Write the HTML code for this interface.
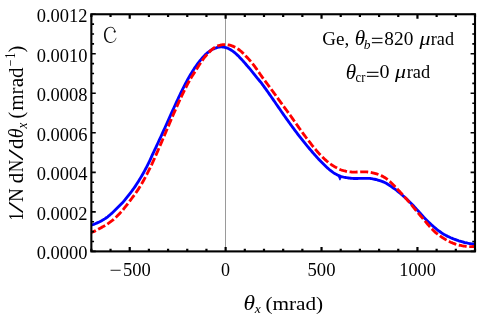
<!DOCTYPE html>
<html><head><meta charset="utf-8"><style>
html,body{margin:0;padding:0;background:#fff;}
svg{display:block;will-change:transform;font-family:"Liberation Serif",serif;font-size:18px;fill:#000;}
.i{font-style:italic}
</style></head><body>
<svg width="478" height="318" viewBox="0 0 478 318">
<rect width="478" height="318" fill="#fff"/>
<line x1="225.5" y1="14.25" x2="225.5" y2="251.4" stroke="#9a9a9a" stroke-width="1"/>
<clipPath id="c"><rect x="91.35" y="14.25" width="383.65" height="237.15"/></clipPath>
<g clip-path="url(#c)" fill="none" stroke-linejoin="round">
<path d="M89.7,225.50 L91.7,224.98 L92.7,224.72 L93.7,224.37 L94.7,223.97 L95.7,223.55 L96.7,223.12 L97.7,222.67 L98.7,222.20 L99.7,221.72 L100.7,221.20 L101.7,220.66 L102.7,220.10 L103.7,219.50 L104.7,218.89 L105.7,218.23 L106.7,217.53 L107.7,216.77 L108.7,215.97 L109.7,215.13 L110.7,214.27 L111.7,213.39 L112.7,212.48 L113.7,211.53 L114.7,210.57 L115.7,209.58 L116.7,208.58 L117.7,207.58 L118.7,206.59 L119.7,205.60 L120.7,204.60 L121.7,203.56 L122.7,202.49 L123.7,201.36 L124.7,200.18 L125.7,198.96 L126.7,197.71 L127.7,196.45 L128.7,195.18 L129.7,193.89 L130.7,192.59 L131.7,191.26 L132.7,189.89 L133.7,188.49 L134.7,187.06 L135.7,185.58 L136.7,184.06 L137.7,182.51 L138.7,180.91 L139.7,179.29 L140.7,177.63 L141.7,175.94 L142.7,174.21 L143.7,172.44 L144.7,170.64 L145.7,168.80 L146.7,166.91 L147.7,164.97 L148.7,162.93 L149.7,160.79 L150.7,158.58 L151.7,156.36 L152.7,154.18 L153.7,152.04 L154.7,149.90 L155.7,147.77 L156.7,145.64 L157.7,143.51 L158.7,141.37 L159.7,139.21 L160.7,137.04 L161.7,134.86 L162.7,132.66 L163.7,130.45 L164.7,128.24 L165.7,126.02 L166.7,123.80 L167.7,121.58 L168.7,119.36 L169.7,117.14 L170.7,114.91 L171.7,112.67 L172.7,110.44 L173.7,108.21 L174.7,106.01 L175.7,103.82 L176.7,101.64 L177.7,99.49 L178.7,97.36 L179.7,95.26 L180.7,93.18 L181.7,91.13 L182.7,89.11 L183.7,87.13 L184.7,85.17 L185.7,83.26 L186.7,81.38 L187.7,79.54 L188.7,77.75 L189.7,75.99 L190.7,74.28 L191.7,72.61 L192.7,70.99 L193.7,69.42 L194.7,67.90 L195.7,66.43 L196.7,65.00 L197.7,63.62 L198.7,62.30 L199.7,61.02 L200.7,59.80 L201.7,58.63 L202.7,57.51 L203.7,56.42 L204.7,55.37 L205.7,54.38 L206.7,53.45 L207.7,52.58 L208.7,51.78 L209.7,51.05 L210.7,50.39 L211.7,49.80 L212.7,49.27 L213.7,48.81 L214.7,48.40 L215.7,48.03 L216.7,47.69 L217.7,47.41 L218.7,47.18 L219.7,47.02 L220.7,46.93 L221.7,46.92 L222.7,46.98 L223.7,47.12 L224.7,47.32 L225.7,47.57 L226.7,47.89 L227.7,48.27 L228.7,48.72 L229.7,49.24 L230.7,49.80 L231.7,50.41 L232.7,51.07 L233.7,51.80 L234.7,52.61 L235.7,53.48 L236.7,54.40 L237.7,55.37 L238.7,56.36 L239.7,57.38 L240.7,58.43 L241.7,59.51 L242.7,60.61 L243.7,61.74 L244.7,62.89 L245.7,64.05 L246.7,65.20 L247.7,66.35 L248.7,67.50 L249.7,68.67 L250.7,69.86 L251.7,71.06 L252.7,72.30 L253.7,73.56 L254.7,74.83 L255.7,76.10 L256.7,77.34 L257.7,78.55 L258.7,79.76 L259.7,80.97 L260.7,82.21 L261.7,83.48 L262.7,84.80 L263.7,86.16 L264.7,87.54 L265.7,88.94 L266.7,90.34 L267.7,91.76 L268.7,93.18 L269.7,94.60 L270.7,96.04 L271.7,97.47 L272.7,98.91 L273.7,100.36 L274.7,101.80 L275.7,103.25 L276.7,104.70 L277.7,106.15 L278.7,107.60 L279.7,109.05 L280.7,110.49 L281.7,111.94 L282.7,113.38 L283.7,114.82 L284.7,116.24 L285.7,117.66 L286.7,119.06 L287.7,120.45 L288.7,121.84 L289.7,123.22 L290.7,124.60 L291.7,125.97 L292.7,127.33 L293.7,128.68 L294.7,130.03 L295.7,131.37 L296.7,132.70 L297.7,134.02 L298.7,135.33 L299.7,136.63 L300.7,137.92 L301.7,139.19 L302.7,140.46 L303.7,141.71 L304.7,142.95 L305.7,144.18 L306.7,145.39 L307.7,146.60 L308.7,147.79 L309.7,148.96 L310.7,150.13 L311.7,151.29 L312.7,152.45 L313.7,153.61 L314.7,154.76 L315.7,155.89 L316.7,157.00 L317.7,158.09 L318.7,159.17 L319.7,160.22 L320.7,161.24 L321.7,162.25 L322.7,163.26 L323.7,164.26 L324.7,165.25 L325.7,166.23 L326.7,167.17 L327.7,168.08 L328.7,168.96 L329.7,169.81 L330.7,170.62 L331.7,171.40 L332.7,172.15 L333.7,172.85 L334.7,173.50 L335.7,174.08 L336.7,174.61 L337.7,175.08 L338.7,175.50 L339.7,175.90 L340.7,176.25 L341.7,176.57 L342.7,176.85 L343.7,177.10 L344.7,177.31 L345.7,177.51 L346.7,177.68 L347.7,177.84 L348.7,177.99 L349.7,178.13 L350.7,178.25 L351.7,178.36 L352.7,178.45 L353.7,178.51 L354.7,178.53 L355.7,178.53 L356.7,178.51 L357.7,178.48 L358.7,178.44 L359.7,178.41 L360.7,178.38 L361.7,178.36 L362.7,178.35 L363.7,178.34 L364.7,178.34 L365.7,178.34 L366.7,178.34 L367.7,178.36 L368.7,178.39 L369.7,178.44 L370.7,178.54 L371.7,178.68 L372.7,178.85 L373.7,179.04 L374.7,179.25 L375.7,179.49 L376.7,179.74 L377.7,180.01 L378.7,180.30 L379.7,180.61 L380.7,180.94 L381.7,181.29 L382.7,181.67 L383.7,182.08 L384.7,182.54 L385.7,183.05 L386.7,183.60 L387.7,184.19 L388.7,184.82 L389.7,185.47 L390.7,186.15 L391.7,186.84 L392.7,187.53 L393.7,188.24 L394.7,188.96 L395.7,189.71 L396.7,190.48 L397.7,191.28 L398.7,192.08 L399.7,192.91 L400.7,193.75 L401.7,194.61 L402.7,195.48 L403.7,196.35 L404.7,197.22 L405.7,198.10 L406.7,199.01 L407.7,199.97 L408.7,200.95 L409.7,201.95 L410.7,202.95 L411.7,203.97 L412.7,205.02 L413.7,206.09 L414.7,207.18 L415.7,208.28 L416.7,209.38 L417.7,210.48 L418.7,211.58 L419.7,212.69 L420.7,213.80 L421.7,214.91 L422.7,216.01 L423.7,217.10 L424.7,218.17 L425.7,219.22 L426.7,220.23 L427.7,221.22 L428.7,222.20 L429.7,223.15 L430.7,224.09 L431.7,225.00 L432.7,225.89 L433.7,226.76 L434.7,227.61 L435.7,228.43 L436.7,229.24 L437.7,230.02 L438.7,230.78 L439.7,231.52 L440.7,232.24 L441.7,232.94 L442.7,233.60 L443.7,234.23 L444.7,234.81 L445.7,235.35 L446.7,235.86 L447.7,236.36 L448.7,236.83 L449.7,237.29 L450.7,237.74 L451.7,238.16 L452.7,238.57 L453.7,238.96 L454.7,239.33 L455.7,239.70 L456.7,240.06 L457.7,240.42 L458.7,240.77 L459.7,241.09 L460.7,241.40 L461.7,241.69 L462.7,241.98 L463.7,242.25 L464.7,242.51 L465.7,242.76 L466.7,242.98 L467.7,243.19 L468.7,243.37 L469.7,243.55 L470.7,243.70 L471.7,243.83 L472.7,243.93 L473.7,244.00 L474.7,244.04 L475.7,244.06" stroke="#0000ff" stroke-width="2.85"/>
<path d="M338.1,176 L339.9,180.2 L341.7,176.8Z" fill="#0000ff" stroke="#0000ff" stroke-width="0.8" stroke-linejoin="round"/>
<path d="M89.7,232.86 L91.7,232.28 L92.7,231.99 L93.7,231.59 L94.7,231.12 L95.7,230.63 L96.7,230.11 L97.7,229.57 L98.7,229.02 L99.7,228.45 L100.7,227.90 L101.7,227.37 L102.7,226.84 L103.7,226.31 L104.7,225.75 L105.7,225.15 L106.7,224.51 L107.7,223.83 L108.7,223.14 L109.7,222.43 L110.7,221.69 L111.7,220.94 L112.7,220.15 L113.7,219.30 L114.7,218.42 L115.7,217.51 L116.7,216.57 L117.7,215.58 L118.7,214.56 L119.7,213.50 L120.7,212.41 L121.7,211.29 L122.7,210.14 L123.7,208.96 L124.7,207.72 L125.7,206.44 L126.7,205.12 L127.7,203.78 L128.7,202.43 L129.7,201.11 L130.7,199.80 L131.7,198.49 L132.7,197.18 L133.7,195.84 L134.7,194.47 L135.7,193.07 L136.7,191.63 L137.7,190.16 L138.7,188.65 L139.7,187.08 L140.7,185.45 L141.7,183.76 L142.7,182.02 L143.7,180.24 L144.7,178.41 L145.7,176.55 L146.7,174.65 L147.7,172.71 L148.7,170.73 L149.7,168.71 L150.7,166.65 L151.7,164.56 L152.7,162.41 L153.7,160.21 L154.7,157.96 L155.7,155.67 L156.7,153.37 L157.7,151.09 L158.7,148.80 L159.7,146.50 L160.7,144.18 L161.7,141.85 L162.7,139.51 L163.7,137.16 L164.7,134.80 L165.7,132.44 L166.7,130.07 L167.7,127.70 L168.7,125.33 L169.7,122.97 L170.7,120.61 L171.7,118.27 L172.7,115.95 L173.7,113.64 L174.7,111.36 L175.7,109.10 L176.7,106.85 L177.7,104.62 L178.7,102.41 L179.7,100.23 L180.7,98.07 L181.7,95.94 L182.7,93.84 L183.7,91.77 L184.7,89.74 L185.7,87.74 L186.7,85.78 L187.7,83.86 L188.7,81.99 L189.7,80.18 L190.7,78.45 L191.7,76.78 L192.7,75.18 L193.7,73.62 L194.7,72.10 L195.7,70.58 L196.7,69.03 L197.7,67.44 L198.7,65.83 L199.7,64.25 L200.7,62.72 L201.7,61.25 L202.7,59.83 L203.7,58.49 L204.7,57.21 L205.7,55.99 L206.7,54.82 L207.7,53.70 L208.7,52.63 L209.7,51.63 L210.7,50.67 L211.7,49.78 L212.7,48.93 L213.7,48.15 L214.7,47.45 L215.7,46.84 L216.7,46.33 L217.7,45.91 L218.7,45.56 L219.7,45.26 L220.7,45.01 L221.7,44.82 L222.7,44.68 L223.7,44.60 L224.7,44.57 L225.7,44.60 L226.7,44.68 L227.7,44.81 L228.7,44.98 L229.7,45.19 L230.7,45.46 L231.7,45.79 L232.7,46.17 L233.7,46.61 L234.7,47.08 L235.7,47.60 L236.7,48.18 L237.7,48.80 L238.7,49.49 L239.7,50.23 L240.7,51.05 L241.7,51.93 L242.7,52.86 L243.7,53.84 L244.7,54.86 L245.7,55.90 L246.7,56.96 L247.7,58.04 L248.7,59.14 L249.7,60.26 L250.7,61.41 L251.7,62.59 L252.7,63.82 L253.7,65.12 L254.7,66.45 L255.7,67.82 L256.7,69.20 L257.7,70.60 L258.7,72.05 L259.7,73.53 L260.7,75.01 L261.7,76.44 L262.7,77.81 L263.7,79.13 L264.7,80.46 L265.7,81.79 L266.7,83.13 L267.7,84.48 L268.7,85.83 L269.7,87.19 L270.7,88.55 L271.7,89.91 L272.7,91.28 L273.7,92.65 L274.7,94.03 L275.7,95.41 L276.7,96.80 L277.7,98.19 L278.7,99.58 L279.7,100.96 L280.7,102.34 L281.7,103.70 L282.7,105.07 L283.7,106.43 L284.7,107.79 L285.7,109.16 L286.7,110.52 L287.7,111.89 L288.7,113.25 L289.7,114.62 L290.7,116.00 L291.7,117.40 L292.7,118.82 L293.7,120.25 L294.7,121.67 L295.7,123.09 L296.7,124.51 L297.7,125.93 L298.7,127.34 L299.7,128.74 L300.7,130.14 L301.7,131.53 L302.7,132.91 L303.7,134.29 L304.7,135.65 L305.7,136.99 L306.7,138.32 L307.7,139.63 L308.7,140.92 L309.7,142.21 L310.7,143.49 L311.7,144.76 L312.7,146.02 L313.7,147.25 L314.7,148.47 L315.7,149.67 L316.7,150.84 L317.7,151.99 L318.7,153.11 L319.7,154.21 L320.7,155.28 L321.7,156.31 L322.7,157.32 L323.7,158.30 L324.7,159.24 L325.7,160.14 L326.7,161.01 L327.7,161.84 L328.7,162.64 L329.7,163.41 L330.7,164.15 L331.7,164.85 L332.7,165.52 L333.7,166.15 L334.7,166.75 L335.7,167.32 L336.7,167.86 L337.7,168.38 L338.7,168.87 L339.7,169.32 L340.7,169.74 L341.7,170.11 L342.7,170.44 L343.7,170.73 L344.7,170.99 L345.7,171.23 L346.7,171.43 L347.7,171.61 L348.7,171.75 L349.7,171.86 L350.7,171.95 L351.7,172.02 L352.7,172.06 L353.7,172.08 L354.7,172.08 L355.7,172.06 L356.7,172.02 L357.7,171.97 L358.7,171.92 L359.7,171.87 L360.7,171.83 L361.7,171.82 L362.7,171.82 L363.7,171.83 L364.7,171.85 L365.7,171.88 L366.7,171.94 L367.7,172.02 L368.7,172.13 L369.7,172.26 L370.7,172.41 L371.7,172.59 L372.7,172.79 L373.7,173.02 L374.7,173.27 L375.7,173.55 L376.7,173.87 L377.7,174.23 L378.7,174.62 L379.7,175.01 L380.7,175.43 L381.7,175.88 L382.7,176.37 L383.7,176.91 L384.7,177.51 L385.7,178.18 L386.7,178.91 L387.7,179.69 L388.7,180.52 L389.7,181.38 L390.7,182.27 L391.7,183.20 L392.7,184.18 L393.7,185.18 L394.7,186.21 L395.7,187.27 L396.7,188.34 L397.7,189.42 L398.7,190.49 L399.7,191.57 L400.7,192.65 L401.7,193.76 L402.7,194.87 L403.7,195.98 L404.7,197.09 L405.7,198.20 L406.7,199.32 L407.7,200.46 L408.7,201.62 L409.7,202.79 L410.7,203.96 L411.7,205.14 L412.7,206.34 L413.7,207.55 L414.7,208.78 L415.7,210.00 L416.7,211.22 L417.7,212.43 L418.7,213.64 L419.7,214.84 L420.7,216.02 L421.7,217.20 L422.7,218.35 L423.7,219.51 L424.7,220.66 L425.7,221.84 L426.7,223.03 L427.7,224.22 L428.7,225.39 L429.7,226.54 L430.7,227.66 L431.7,228.72 L432.7,229.74 L433.7,230.72 L434.7,231.66 L435.7,232.58 L436.7,233.44 L437.7,234.25 L438.7,235.01 L439.7,235.73 L440.7,236.43 L441.7,237.10 L442.7,237.74 L443.7,238.38 L444.7,239.00 L445.7,239.60 L446.7,240.18 L447.7,240.73 L448.7,241.26 L449.7,241.75 L450.7,242.21 L451.7,242.64 L452.7,243.05 L453.7,243.43 L454.7,243.79 L455.7,244.13 L456.7,244.44 L457.7,244.73 L458.7,245.00 L459.7,245.25 L460.7,245.47 L461.7,245.68 L462.7,245.86 L463.7,246.03 L464.7,246.18 L465.7,246.30 L466.7,246.40 L467.7,246.48 L468.7,246.54 L469.7,246.57 L470.7,246.58 L471.7,246.57 L472.7,246.54 L473.7,246.49 L474.7,246.42 L475.7,246.37" stroke="#ff0000" stroke-width="2.85" stroke-dasharray="8.0,2.6" stroke-dashoffset="1.40"/>
</g>
<g stroke="#000" stroke-width="1.6" fill="none"><path stroke-width="2.2" d="M91.35,251.4 v-2.7 M91.35,14.25 v2.7"/><path stroke-width="2.2" d="M110.53,251.4 v-2.7 M110.53,14.25 v2.7"/><path stroke-width="2.2" d="M129.72,251.4 v-4.4 M129.72,14.25 v4.4"/><path stroke-width="2.2" d="M148.90,251.4 v-2.7 M148.90,14.25 v2.7"/><path stroke-width="2.2" d="M168.08,251.4 v-2.7 M168.08,14.25 v2.7"/><path stroke-width="2.2" d="M187.26,251.4 v-2.7 M187.26,14.25 v2.7"/><path stroke-width="2.2" d="M206.44,251.4 v-2.7 M206.44,14.25 v2.7"/><path stroke-width="2.2" d="M225.63,251.4 v-4.4 M225.63,14.25 v4.4"/><path stroke-width="2.2" d="M244.81,251.4 v-2.7 M244.81,14.25 v2.7"/><path stroke-width="2.2" d="M263.99,251.4 v-2.7 M263.99,14.25 v2.7"/><path stroke-width="2.2" d="M283.17,251.4 v-2.7 M283.17,14.25 v2.7"/><path stroke-width="2.2" d="M302.36,251.4 v-2.7 M302.36,14.25 v2.7"/><path stroke-width="2.2" d="M321.54,251.4 v-4.4 M321.54,14.25 v4.4"/><path stroke-width="2.2" d="M340.72,251.4 v-2.7 M340.72,14.25 v2.7"/><path stroke-width="2.2" d="M359.90,251.4 v-2.7 M359.90,14.25 v2.7"/><path stroke-width="2.2" d="M379.09,251.4 v-2.7 M379.09,14.25 v2.7"/><path stroke-width="2.2" d="M398.27,251.4 v-2.7 M398.27,14.25 v2.7"/><path stroke-width="2.2" d="M417.45,251.4 v-4.4 M417.45,14.25 v4.4"/><path stroke-width="2.2" d="M436.63,251.4 v-2.7 M436.63,14.25 v2.7"/><path stroke-width="2.2" d="M455.82,251.4 v-2.7 M455.82,14.25 v2.7"/><path stroke-width="2.2" d="M475.00,251.4 v-2.7 M475.00,14.25 v2.7"/><path d="M91.35,251.40 h4.4 M475.0,251.40 h-4.4"/><path d="M91.35,241.52 h2.7 M475.0,241.52 h-2.7"/><path d="M91.35,231.64 h2.7 M475.0,231.64 h-2.7"/><path d="M91.35,221.76 h2.7 M475.0,221.76 h-2.7"/><path d="M91.35,211.88 h4.4 M475.0,211.88 h-4.4"/><path d="M91.35,201.99 h2.7 M475.0,201.99 h-2.7"/><path d="M91.35,192.11 h2.7 M475.0,192.11 h-2.7"/><path d="M91.35,182.23 h2.7 M475.0,182.23 h-2.7"/><path d="M91.35,172.35 h4.4 M475.0,172.35 h-4.4"/><path d="M91.35,162.47 h2.7 M475.0,162.47 h-2.7"/><path d="M91.35,152.59 h2.7 M475.0,152.59 h-2.7"/><path d="M91.35,142.71 h2.7 M475.0,142.71 h-2.7"/><path d="M91.35,132.82 h4.4 M475.0,132.82 h-4.4"/><path d="M91.35,122.94 h2.7 M475.0,122.94 h-2.7"/><path d="M91.35,113.06 h2.7 M475.0,113.06 h-2.7"/><path d="M91.35,103.18 h2.7 M475.0,103.18 h-2.7"/><path d="M91.35,93.30 h4.4 M475.0,93.30 h-4.4"/><path d="M91.35,83.42 h2.7 M475.0,83.42 h-2.7"/><path d="M91.35,73.54 h2.7 M475.0,73.54 h-2.7"/><path d="M91.35,63.66 h2.7 M475.0,63.66 h-2.7"/><path d="M91.35,53.78 h4.4 M475.0,53.78 h-4.4"/><path d="M91.35,43.89 h2.7 M475.0,43.89 h-2.7"/><path d="M91.35,34.01 h2.7 M475.0,34.01 h-2.7"/><path d="M91.35,24.13 h2.7 M475.0,24.13 h-2.7"/><path d="M91.35,14.25 h4.4 M475.0,14.25 h-4.4"/></g>
<rect x="91.35" y="14.25" width="383.65" height="237.15" fill="none" stroke="#000" stroke-width="2.1"/>
<g><text x="36.7" y="259.2" textLength="50.8" lengthAdjust="spacingAndGlyphs">0.0000</text><text x="36.7" y="219.7" textLength="50.8" lengthAdjust="spacingAndGlyphs">0.0002</text><text x="36.7" y="180.2" textLength="50.8" lengthAdjust="spacingAndGlyphs">0.0004</text><text x="36.7" y="140.6" textLength="50.8" lengthAdjust="spacingAndGlyphs">0.0006</text><text x="36.7" y="101.1" textLength="50.8" lengthAdjust="spacingAndGlyphs">0.0008</text><text x="36.7" y="61.6" textLength="50.8" lengthAdjust="spacingAndGlyphs">0.0010</text><text x="36.7" y="22.0" textLength="50.8" lengthAdjust="spacingAndGlyphs">0.0012</text></g>
<g><text x="109.6" y="275.8" textLength="12.2" lengthAdjust="spacingAndGlyphs">−</text><text x="123.0" y="275.8" textLength="27.8" lengthAdjust="spacingAndGlyphs">500</text><text x="225.6" y="275.8" text-anchor="middle">0</text><text x="321.5" y="275.8" text-anchor="middle" textLength="28" lengthAdjust="spacingAndGlyphs">500</text><text x="417.5" y="275.8" text-anchor="middle" textLength="36.5" lengthAdjust="spacingAndGlyphs">1000</text></g>
<path d="M115.3,31 C114.6,28.3 112.9,26.75 110.6,26.75 C106.8,26.75 103.95,30.3 103.95,35 C103.95,39.6 106.6,42.95 110.3,42.95 C113.6,42.95 115.9,40.8 116.45,37.8 L116.0,37.75 C115.2,40.4 113.5,42.05 110.8,42.05 C107.7,42.05 105.65,39.2 105.65,35 C105.65,30.6 107.8,27.55 110.8,27.55 C112.6,27.55 113.9,28.8 114.6,31.2 Z" fill="#111"/>
<circle cx="114.7" cy="31.55" r="1.15" fill="#111"/>
<g>
<text x="322.2" y="44.5" textLength="27" lengthAdjust="spacingAndGlyphs">Ge,</text>
<text x="354.7" y="44.6" class="i" font-size="20" textLength="10.4" lengthAdjust="spacingAndGlyphs">θ</text>
<text x="363.7" y="48.6" class="i" font-size="13.5">b</text>
<path d="M371.9,37.85h10.6v1.2h-10.6z M371.9,41.95h10.6v1.2h-10.6z" fill="#222"/>
<text x="384.3" y="44.5" textLength="29" lengthAdjust="spacingAndGlyphs">820</text>
<text x="419.5" y="44.5" class="i" textLength="11" lengthAdjust="spacingAndGlyphs">μ</text>
<text x="430.8" y="44.5" textLength="23.2" lengthAdjust="spacingAndGlyphs">rad</text>
</g>
<g>
<text x="345.7" y="78.5" class="i" font-size="20" textLength="10.4" lengthAdjust="spacingAndGlyphs">θ</text>
<text x="355.6" y="81.6" font-size="14" textLength="9.8" lengthAdjust="spacingAndGlyphs">cr</text>
<path d="M366.9,71.75h11.6v1.2h-11.6z M366.9,75.85h11.6v1.2h-11.6z" fill="#222"/>
<text x="379.5" y="78.4" textLength="10" lengthAdjust="spacingAndGlyphs">0</text>
<text x="395" y="78.4" class="i" textLength="11" lengthAdjust="spacingAndGlyphs">μ</text>
<text x="406.7" y="78.4" textLength="23.4" lengthAdjust="spacingAndGlyphs">rad</text>
</g>
<g font-size="19">
<text x="243.4" y="309.8" class="i" font-size="20.5" textLength="11.5" lengthAdjust="spacingAndGlyphs">θ</text>
<text x="254.8" y="313" class="i" font-size="13.5">x</text>
<text x="265.4" y="309.8" textLength="57.8" lengthAdjust="spacingAndGlyphs">(mrad)</text>
</g>
<g font-size="20" transform="translate(23,220) rotate(-90)"><text x="-0.3" y="0" textLength="7.6" lengthAdjust="spacingAndGlyphs" >1</text><text x="6.8" y="0" textLength="11.6" lengthAdjust="spacingAndGlyphs" >/</text><text x="18.1" y="0" textLength="13.8" lengthAdjust="spacingAndGlyphs" >N</text><text x="36.7" y="0" textLength="10.3" lengthAdjust="spacingAndGlyphs" >d</text><text x="47.7" y="0" textLength="12.4" lengthAdjust="spacingAndGlyphs" >N</text><text x="59.4" y="0" textLength="11.6" lengthAdjust="spacingAndGlyphs" >/</text><text x="71.0" y="0" textLength="10.3" lengthAdjust="spacingAndGlyphs" >d</text><text x="81.8" y="0" textLength="9.8" lengthAdjust="spacingAndGlyphs" class="i" font-size="21">θ</text><text x="91.5" y="4.4" textLength="5.8" lengthAdjust="spacingAndGlyphs" class="i" font-size="14">x</text><text x="101.4" y="0" textLength="6.6" lengthAdjust="spacingAndGlyphs" >(</text><text x="109.2" y="0" textLength="43.4" lengthAdjust="spacingAndGlyphs" >mrad</text><text x="153.8" y="-8.2" textLength="6.6" lengthAdjust="spacingAndGlyphs" font-size="14">−</text><text x="161.4" y="-8.2" textLength="5.6" lengthAdjust="spacingAndGlyphs" font-size="14">1</text><text x="167.4" y="0" textLength="6.8" lengthAdjust="spacingAndGlyphs" >)</text></g>
</svg>
</body></html>
